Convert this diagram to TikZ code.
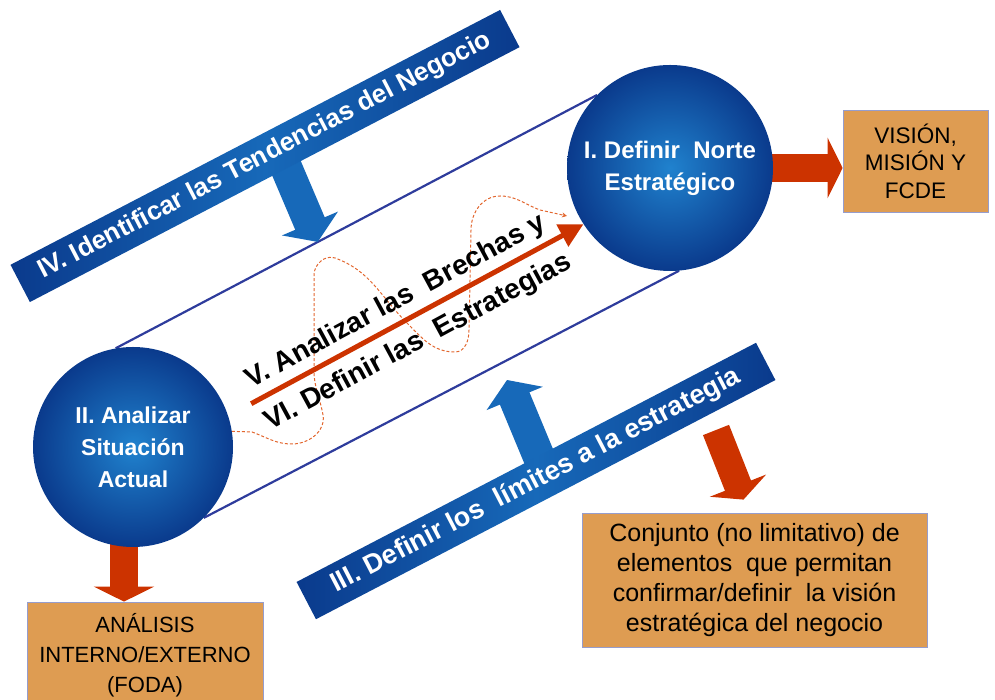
\documentclass[tikz,border=0pt]{standalone}
\usepackage{fontspec}
\setmainfont{Liberation Sans}
\usetikzlibrary{arrows.meta,calc,positioning}
\pgfdeclarelayer{back}
\pgfsetlayers{back,main}

\definecolor{navy}{HTML}{0A3A8C}
\definecolor{midblue}{HTML}{1769B9}
\definecolor{glow}{HTML}{2082CE}
\definecolor{brick}{HTML}{CC3300}
\definecolor{tan}{HTML}{DE9C52}
\definecolor{rail}{HTML}{2E3C9C}
\definecolor{trace}{HTML}{E2672F}

\begin{document}
\begin{tikzpicture}[x=1pt,y=1pt,
    stage/.style={circle,minimum size=#1,inner sep=0pt,align=center,
      inner color=glow,outer color=navy,text=white},
    band/.style={rectangle,minimum height=42,inner sep=0pt,rotate=27.5,
      left color=navy,right color=navy,middle color=midblue,text=white,
      font=\bfseries\fontsize{26}{30}\selectfont},
    result/.style={rectangle,fill=tan,draw=rail!50,line width=0.8,
      inner sep=0pt,align=center},
    bigred/.style={brick,line width=28,-{Triangle[width=60pt,length=15pt]}},
    bigblue/.style={midblue,line width=32,-{Triangle[width=60pt,length=20pt]}},
    gapline/.style={brick,line width=5,-{Triangle[width=24pt,length=24pt]}},
    steplabel/.style={sloped,inner sep=2pt,text=black,
      font=\bfseries\fontsize{28}{32}\selectfont}]
  \useasboundingbox (0,0) rectangle (995,700);

  % the two stages
  \node[stage=206,font=\bfseries\fontsize{24}{32}\selectfont] (I) at (670,532)
    {I. Definir~ Norte\\Estratégico};
  \node[stage=200,font=\bfseries\fontsize{23}{32}\selectfont] (II) at (133,253)
    {II. Analizar\\Situación\\Actual};

  % bands
  \node[band,minimum width=552] (tend) at (265,544)
    {IV. Identificar las Tendencias del Negocio};
  \node[band,minimum width=518,font=\bfseries\fontsize{27}{30}\selectfont] (lim) at (536,219)
    {III. Definir los~ límites a la estrategia};

  % results
  \node[result,minimum width=145,minimum height=102,
    font=\fontsize{22.5}{27.5}\selectfont] (vis) at (915.5,539)
    {VISIÓN,\\MISIÓN Y\\FCDE};
  \node[result,minimum width=236,minimum height=106,
    font=\fontsize{22}{30}\selectfont] (ana) at (145,45)
    {ANÁLISIS\\INTERNO/EXTERNO\\(FODA)};
  \node[result,minimum width=345,minimum height=134,
    font=\fontsize{25}{30}\selectfont] (conj) at (754.5,120)
    {Conjunto (no limitativo) de\\elementos~ que permitan\\confirmar/definir~ la visión\\estratégica del negocio};

  \coordinate (limdown) at (716,270);
  \coordinate (limup) at (507,320);

  \begin{pgfonlayer}{back}
    \draw[rail,line width=2.2] (II.100) -- (I.135);
    \draw[rail,line width=2.2] (II.-45) -- (I.-85);
    \draw[bigred] (I.center) -- (I.center -| vis.west);
    \draw[bigred] ([xshift=-9pt]II.center) -- ([xshift=-9pt]II.center |- ana.north);
    \draw[bigred] (limdown) -- ($(conj.north)+(-11,13)$);
    \draw[bigblue] ($(tend.center)!15pt!(tend.east)$) -- ($(II.100)!0.42!(I.135)$);
    \draw[bigblue] ($(lim.center)!12pt!(lim.east)$) -- (limup);
  \end{pgfonlayer}

  % gap between the stages
  \draw[trace,line width=1,dash pattern=on 3pt off 2pt,-{Stealth[length=5pt,width=5pt]}]
    (II.9) -- (252,268)
    to[out=-20,in=180] (292,256)
    to[out=0,in=-80] (323,285)
    to[out=100,in=-90] (314,330)
    -- (314,425)
    to[out=90,in=160] (335,442)
    to[out=-20,in=135] (407,377)
    to[out=-45,in=180] (455,348)
    to[out=0,in=-90] (469,370)
    -- (471,470)
    to[out=90,in=180] (500,504)
    to[out=0,in=160] (540,490)
    -- (567,484);
  \draw[gapline,shorten <=26pt] (II.18) --
    node[steplabel,above=3pt] {V. Analizar las~ Brechas y}
    node[steplabel,below=8pt] {VI. Definir las~ Estrategias} (I.213);
\end{tikzpicture}
\end{document}
